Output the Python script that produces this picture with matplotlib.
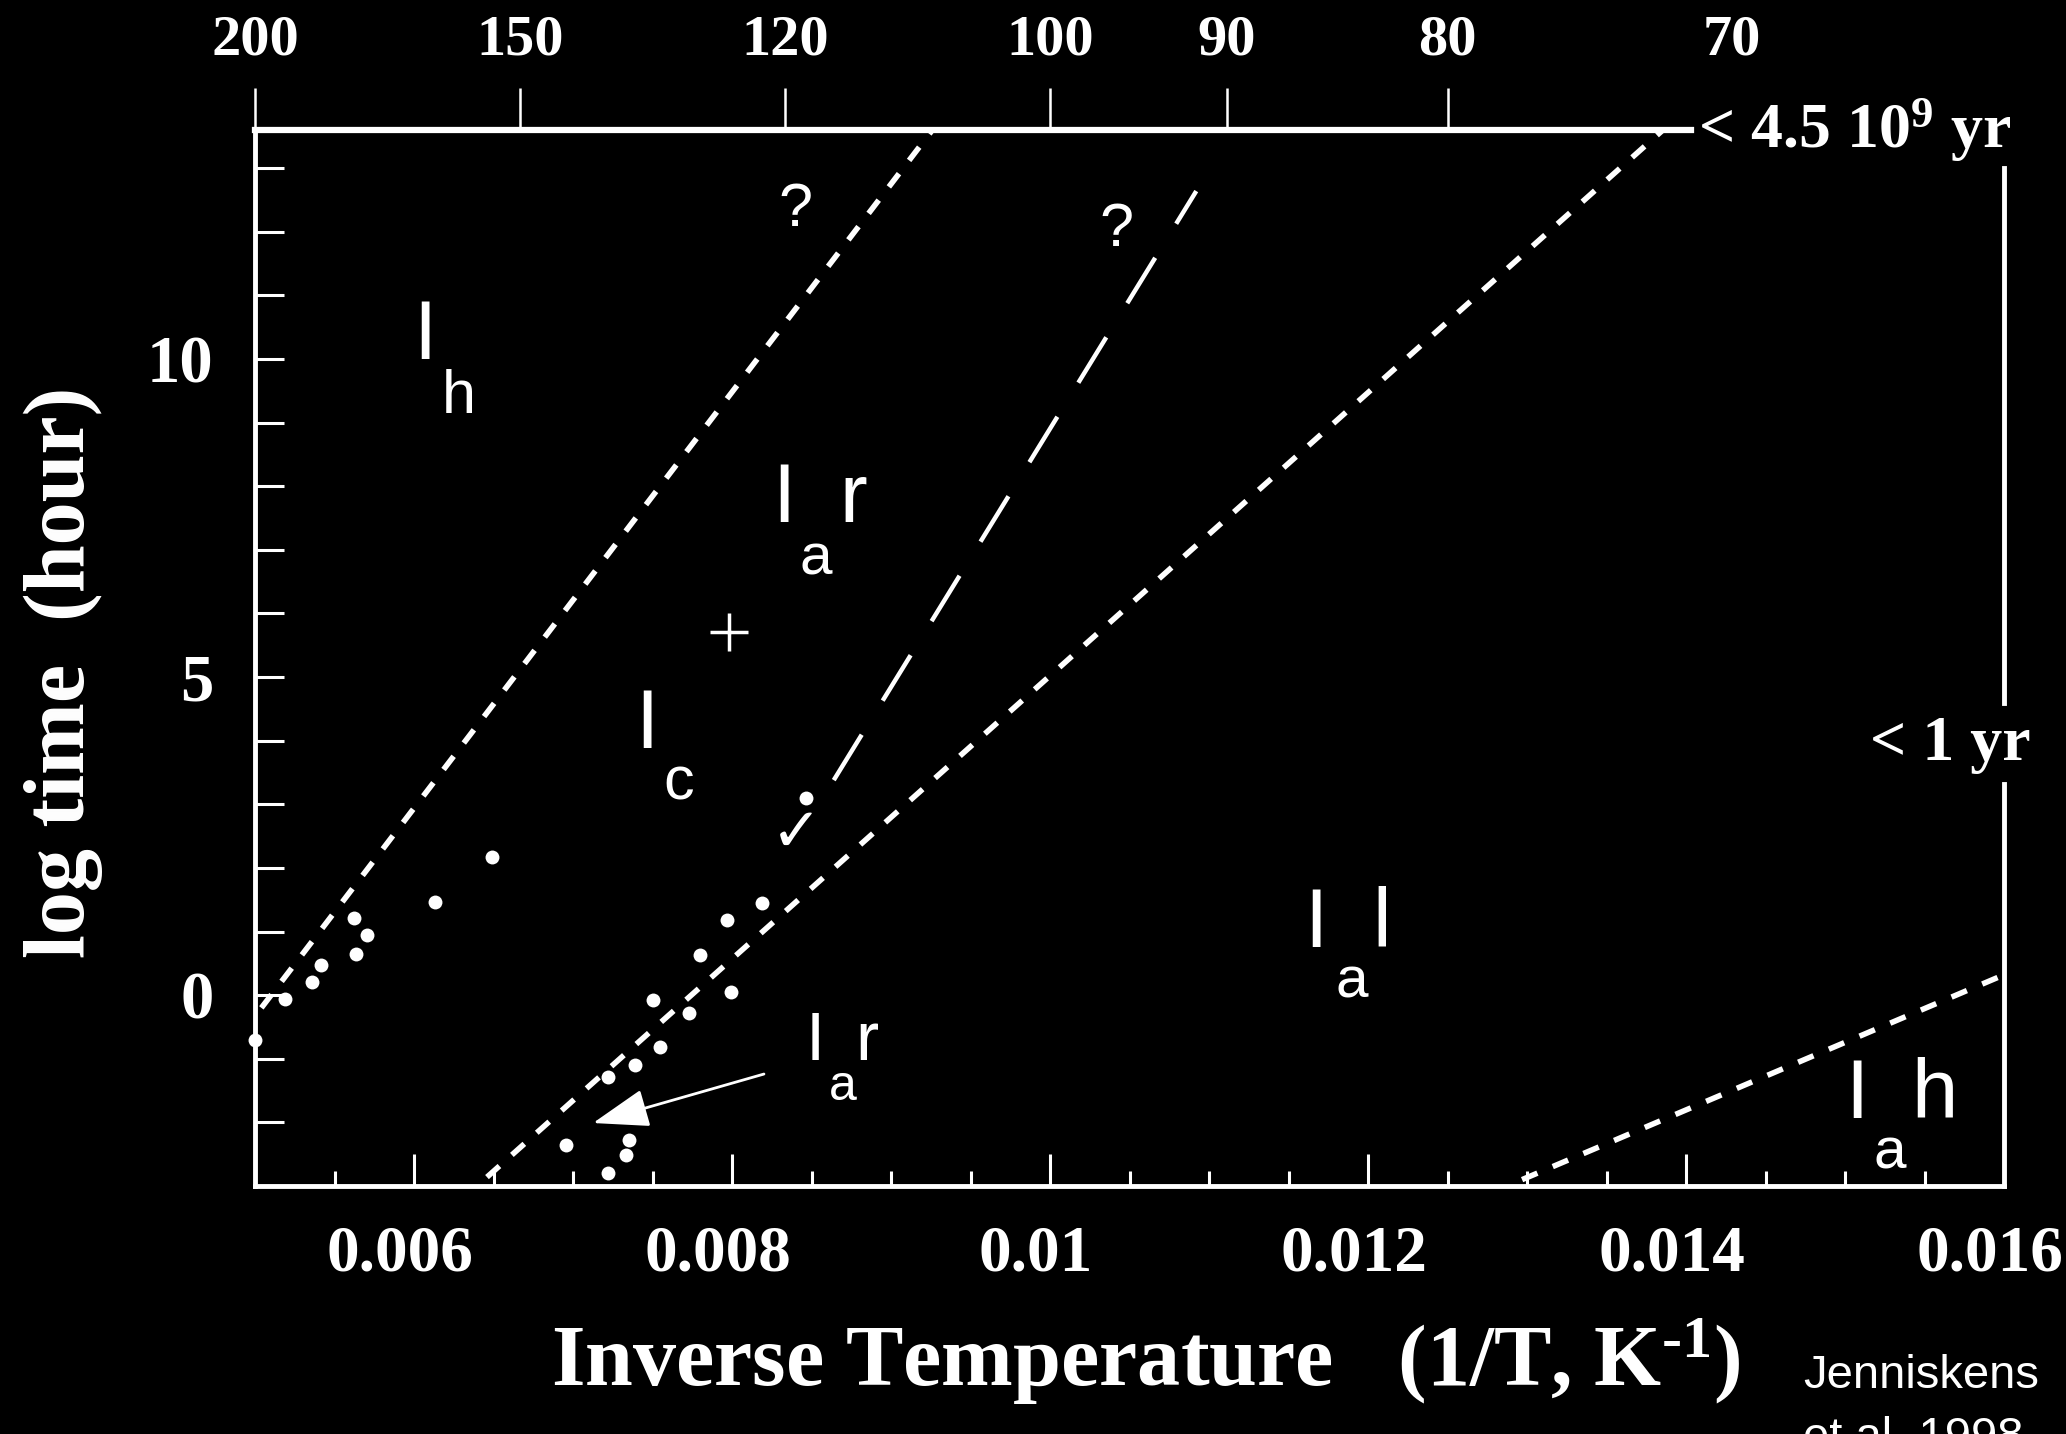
import matplotlib.pyplot as plt
from matplotlib.ticker import FixedLocator, MultipleLocator, FuncFormatter
from matplotlib.transforms import ScaledTranslation

plt.rcParams['mathtext.fontset'] = 'custom'
plt.rcParams['mathtext.rm'] = 'Liberation Serif:bold'
plt.rcParams['mathtext.it'] = 'Liberation Serif:bold'
plt.rcParams['mathtext.bf'] = 'Liberation Serif:bold'
plt.rcParams['mathtext.default'] = 'rm'

serif = 'Liberation Serif'
sans = 'Liberation Sans'
ink = 'white'

# axes: inverse temperature (1/K) and log time (hour)
x_range = [0.005, 0.016]
y_range = [-3, 13.6]
bottom_ticks = [0.006, 0.008, 0.010, 0.012, 0.014, 0.016]
left_ticks = [0, 5, 10]
top_temps = [200, 150, 120, 100, 90, 80, 70]

# phase boundaries, end points (1/T, log t)
ih_x = [0.00504, 0.00926]
ih_y = [-0.2, 13.6]
iar_x = [0.00864, 0.01092]
iar_y = [3.38, 12.64]
ial_x = [0.006459, 0.013855]
ial_y = [-2.86, 13.6]
iah_x = [0.012969, 0.016]
iah_y = [-2.9, 0.32]

# age of solar system / one year, in log hours
age_y = 13.6
age_end_x = 0.01403
year_y = 3.94
right_lo = [-3, 3.32]
right_hi = [4.6, 13.0]

# measured points
pts_x = [0.006491, 0.006132, 0.005623, 0.005704, 0.005635, 0.005415, 0.005358,
         0.005189, 0.005000,
         0.008189, 0.007969, 0.007799, 0.007994, 0.007503, 0.007730, 0.007547,
         0.007390, 0.007220, 0.006956, 0.007352, 0.007333, 0.007220, 0.008465]
pts_y = [2.17, 1.47, 1.21, 0.95, 0.65, 0.47, 0.21,
         -0.06, -0.70,
         1.45, 1.18, 0.63, 0.05, -0.08, -0.28, -0.81,
         -1.10, -1.29, -2.36, -2.28, -2.51, -2.80, 3.10]
plus_x, plus_y = 0.007981, 5.71
check_x, check_y = 0.008403, 2.52
query_x = [0.008396, 0.010415]
query_y = [12.33, 12.02]

# phase labels: (text, x, y, size)
big_labels = [("I", 0.006069, 10.00, 60), ("I", 0.008327, 7.44, 60),
              ("r", 0.008761, 7.44, 60), ("I", 0.007465, 3.89, 60),
              ("I", 0.011673, 0.76, 60), ("l", 0.012088, 0.76, 60),
              ("I", 0.015075, -1.93, 60), ("h", 0.015560, -1.93, 60),
              ("I", 0.008522, -1.02, 50), ("r", 0.008849, -1.02, 50)]
sub_labels = [("h", 0.006283, 9.15, 44), ("a", 0.008528, 6.62, 42),
              ("c", 0.007667, 3.08, 44), ("a", 0.011899, -0.04, 42),
              ("a", 0.015283, -2.72, 42), ("a", 0.008698, -1.65, 36)]

W, H = 2066, 1434
fig = plt.figure(figsize=(W / 100, H / 100), dpi=100, facecolor='black')
ax = fig.add_axes([255 / W, 1 - 1186 / H, (2004 - 255) / W, (1186 - 130) / H])
ax.set_facecolor('black')
ax.set_xlim(x_range)
ax.set_ylim(y_range)

for s in ['top', 'right']:
    ax.spines[s].set_visible(False)
for s in ['left', 'bottom']:
    ax.spines[s].set_color(ink)
    ax.spines[s].set_linewidth(3.5)

ax.xaxis.set_major_locator(FixedLocator(bottom_ticks))
ax.xaxis.set_minor_locator(MultipleLocator(0.0005))
ax.xaxis.set_major_formatter(FuncFormatter(lambda v, p: f"{v:g}"))
ax.yaxis.set_major_locator(FixedLocator(left_ticks))
ax.yaxis.set_minor_locator(MultipleLocator(1))
ax.tick_params(axis='x', which='major', direction='in', length=23, width=2.2,
               color=ink, pad=28)
ax.tick_params(axis='x', which='minor', direction='in', length=11, width=2.2,
               color=ink)
ax.tick_params(axis='y', which='both', direction='in', length=21, width=2.2,
               color=ink, pad=30)
shift = ScaledTranslation(-14 / 100, 0, fig.dpi_scale_trans)
for lab in ax.get_xticklabels():
    lab.set_fontproperties({'family': serif, 'weight': 'bold', 'size': 47})
    lab.set_color(ink)
    lab.set_transform(lab.get_transform() + shift)
for lab in ax.get_yticklabels():
    lab.set_fontproperties({'family': serif, 'weight': 'bold', 'size': 48})
    lab.set_color(ink)

# temperature scale on top
top = ax.twiny()
top.set_xlim(x_range)
for s in top.spines.values():
    s.set_visible(False)
top.set_xticks([1.0 / t for t in top_temps])
top.set_xticklabels([str(t) for t in top_temps], family=serif, weight='bold',
                    size=42, color=ink)
top.tick_params(axis='x', direction='out', length=30, width=1.8, color=ink, pad=16)
top.xaxis.get_major_ticks()[-1].tick2line.set_visible(False)

# boundaries
dot = dict(color=ink, lw=4, dashes=(3, 3), dash_capstyle='butt')
ax.plot(ih_x, ih_y, **dot)
ax.plot(ial_x, ial_y, **dot)
ax.plot(iah_x, iah_y, **dot)
ax.plot(iar_x, iar_y, color=ink, lw=3.2, dashes=(12, 9))

ax.plot([x_range[0], age_end_x], [age_y, age_y], color=ink, lw=4.5, clip_on=False)
ax.plot([x_range[1]] * 2, right_lo, color=ink, lw=3.5, clip_on=False)
ax.plot([x_range[1]] * 2, right_hi, color=ink, lw=3.5, clip_on=False)

ax.plot(pts_x, pts_y, 'o', color=ink, ms=10, mec='none', clip_on=False)
ax.plot(plus_x, plus_y, '+', color=ink, ms=27, mew=2.5)
ax.text(check_x, check_y, "\u2713", family='DejaVu Sans', size=44, color=ink,
        ha='center', va='center')
for qx, qy in zip(query_x, query_y):
    ax.text(qx, qy, "?", family=sans, size=44, color=ink, ha='center', va='center')

for txt, lx, ly, sz in big_labels + sub_labels:
    ax.text(lx, ly, txt, family=sans, size=sz, color=ink, ha='center', va='baseline')

ax.annotate('', xy=(0.007126, -2.01), xytext=(0.008201, -1.24),
            arrowprops=dict(arrowstyle='-|>,head_length=1.75,head_width=0.6',
                            color=ink, lw=2, mutation_scale=20,
                            shrinkA=0, shrinkB=0))

ax.text(0.014075, age_y, "< 4.5 10$^{9}$ yr", family=serif, weight='bold', size=46,
        color=ink, ha='left', va='center')
ax.text(0.015157, year_y, "< 1 yr", family=serif, weight='bold', size=46,
        color=ink, ha='left', va='center')

fig.text(63 / W, 1 - 672 / H, "log time  (hour)", family=serif, weight='bold',
         size=62, color=ink, rotation=90, ha='center', va='center')
fig.text(1146 / W, 1 - 1386 / H, "Inverse Temperature   (1/T, K$^{\u2010 1}$)",
         family=serif, weight='bold', size=62, color=ink, ha='center', va='baseline')
fig.text(1803 / W, 1 - 1388 / H, "Jenniskens", family=sans, size=34, color=ink,
         ha='left', va='baseline')
fig.text(1803 / W, 1 - 1450 / H, "et al. 1998", family=sans, size=34, color=ink,
         ha='left', va='baseline')

fig.savefig('out.png', dpi=100, facecolor='black')
